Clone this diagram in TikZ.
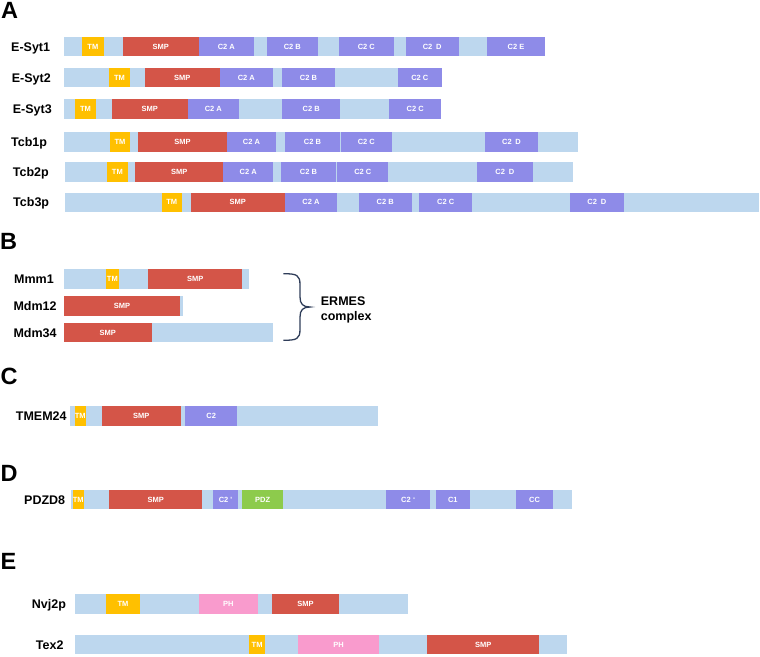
\documentclass[tikz,border=0pt]{standalone}
\usepackage{fontspec}
\setmainfont{Liberation Sans}
\definecolor{barc}{HTML}{BDD7EE}
\definecolor{tmc}{HTML}{FFC000}
\definecolor{smpc}{HTML}{D45548}
\definecolor{c2c}{HTML}{8E8BE8}
\definecolor{pdzc}{HTML}{8DCB4C}
\definecolor{phc}{HTML}{F99BCD}
\definecolor{bracec}{HTML}{2F3D59}
\newcommand\setrow[1]{\def\yc{#1}}
\newcommand\seg[5]{\node[#2, minimum width={(#4-#3)*1pt}] (#1) at ({(#3+#4)/2},\yc) {#5};}
\tikzset{
  segbase/.style={rectangle, draw=none, inner sep=0pt, outer sep=0pt, minimum height=19.5pt,
    font=\fontsize{7.5}{8}\selectfont\bfseries, text=white},
  barbox/.style={segbase, fill=barc},
  tmbox/.style={segbase, fill=tmc},
  smpbox/.style={segbase, fill=smpc},
  c2box/.style={segbase, fill=c2c},
  pdzbox/.style={segbase, fill=pdzc},
  phbox/.style={segbase, fill=phc},
  lab/.style={anchor=base west, inner sep=0pt, font=\fontsize{12.5}{14}\selectfont\bfseries},
  panel/.style={anchor=base west, inner sep=0pt, font=\fontsize{23.5}{26}\selectfont\bfseries},
}
\begin{document}
\begin{tikzpicture}[x=1pt,y=-1pt]
\useasboundingbox (0,0) rectangle (760,656);
% panel letters
\node[panel] (pA) at (1,18.3) {A};
\node[panel] (pB) at (0,249.3) {B};
\node[panel] (pC) at (0.5,384.3) {C};
\node[panel] (pD) at (0.5,481) {D};
\node[panel] (pE) at (0.5,569.3) {E};
% ---- A ----
\setrow{46.5}
\node[lab] (l1) at (11,51) {E-Syt1};
\seg{b1}{barbox}{64}{545.3}{}
\seg{tm1}{tmbox}{82}{103.7}{TM}
\seg{smp1}{smpbox}{122.7}{198.7}{SMP}
\seg{a1}{c2box}{198.7}{254}{C2 A}
\seg{bb1}{c2box}{267}{317.7}{C2 B}
\seg{c1}{c2box}{339}{393.7}{C2 C}
\seg{d1}{c2box}{405.7}{458.7}{C2\enspace D}
\seg{e1}{c2box}{486.7}{545.3}{C2 E}
\setrow{77.7}
\node[lab] (l2) at (11.7,82.2) {E-Syt2};
\seg{b2}{barbox}{64}{442}{}
\seg{tm2}{tmbox}{109.3}{129.7}{TM}
\seg{smp2}{smpbox}{145}{219.7}{SMP}
\seg{a2}{c2box}{219.7}{273}{C2 A}
\seg{bb2}{c2box}{282}{335}{C2 B}
\seg{c2}{c2box}{397.7}{442}{C2 C}
\setrow{108.8}
\node[lab] (l3) at (12.7,113.3) {E-Syt3};
\seg{b3}{barbox}{64}{441.3}{}
\seg{tm3}{tmbox}{75}{96}{TM}
\seg{smp3}{smpbox}{111.7}{187.7}{SMP}
\seg{a3}{c2box}{187.7}{239}{C2 A}
\seg{bb3}{c2box}{282}{340.3}{C2 B}
\seg{c3}{c2box}{389}{441.3}{C2 C}
\setrow{141.8}
\node[lab] (l4) at (11,146.3) {Tcb1p};
\seg{b4}{barbox}{64}{578.3}{}
\seg{tm4}{tmbox}{110}{130}{TM}
\seg{smp4}{smpbox}{138}{227}{SMP}
\seg{a4}{c2box}{227}{276}{C2 A}
\seg{bb4}{c2box}{285}{340}{C2 B}
\seg{c4}{c2box}{340.7}{392}{C2 C}
\seg{d4}{c2box}{485}{538}{C2\enspace D}
\setrow{172}
\node[lab] (l5) at (12.7,176.5) {Tcb2p};
\seg{b5}{barbox}{65}{572.7}{}
\seg{tm5}{tmbox}{107}{127.7}{TM}
\seg{smp5}{smpbox}{135.3}{223.3}{SMP}
\seg{a5}{c2box}{223.3}{273}{C2 A}
\seg{bb5}{c2box}{281}{336}{C2 B}
\seg{c5}{c2box}{337.3}{388.3}{C2 C}
\seg{d5}{c2box}{477}{532.7}{C2\enspace D}
\setrow{202.3}
\node[lab] (l6) at (13,206.8) {Tcb3p};
\seg{b6}{barbox}{65}{759}{}
\seg{tm6}{tmbox}{161.7}{181.7}{TM}
\seg{smp6}{smpbox}{190.7}{284.7}{SMP}
\seg{a6}{c2box}{284.7}{337.3}{C2 A}
\seg{bb6}{c2box}{358.7}{411.7}{C2 B}
\seg{c6}{c2box}{419.3}{472}{C2 C}
\seg{d6}{c2box}{569.7}{624}{C2\enspace D}
% ---- B ----
\setrow{279}
\node[lab] (l7) at (14,283.5) {Mmm1};
\seg{b7}{barbox}{64}{249.3}{}
\seg{tm7}{tmbox}{105.7}{119}{TM}
\seg{smp7}{smpbox}{148}{242.3}{SMP}
\setrow{305.8}
\node[lab] (l8) at (13.3,310.3) {Mdm12};
\seg{b8}{barbox}{64}{182.7}{}
\seg{smp8}{smpbox}{64}{180}{SMP}
\setrow{332.5}
\node[lab] (l9) at (13.3,337) {Mdm34};
\seg{b9}{barbox}{64}{273.3}{}
\seg{smp9}{smpbox}{64}{151.7}{SMP}
\draw[bracec, line width=1.3pt] (283.3,273.7) .. controls (297,273.7) and (300,275) .. (300,285)
  -- (300,297) .. controls (300,304) and (303,307) .. (310,307)
  .. controls (303,307) and (300,310) .. (300,317)
  -- (300,329) .. controls (300,339) and (297,340.3) .. (283.3,340.3);
\node[lab] (erm) at (320.7,305.3) {ERMES};
\node[lab] (cpx) at (320.7,320) {complex};
% ---- C ----
\setrow{415.8}
\node[lab] (l10) at (15.7,420.3) {TMEM24};
\seg{b10}{barbox}{70}{377.7}{}
\seg{tm10}{tmbox}{74.7}{85.7}{TM}
\seg{smp10}{smpbox}{101.7}{180.7}{SMP}
\seg{c10}{c2box}{185}{237.3}{C2}
% ---- D ----
\setrow{499.7}
\node[lab] (l11) at (24,504.2) {PDZD8};
\seg{b11}{barbox}{71.3}{572}{}
\seg{tm11}{tmbox}{72.7}{83.7}{TM}
\seg{smp11}{smpbox}{109.3}{202.3}{SMP}
\seg{cp11}{c2box}{213}{238}{C2 \textquotesingle}
\seg{pdz11}{pdzbox}{242}{283.3}{PDZ}
\seg{cpp11}{c2box}{386.3}{430}{C2 \raisebox{1pt}{\fontsize{5}{5}\selectfont\textquotesingle\textquotesingle}}
\seg{cone11}{c2box}{436}{469.7}{C1}
\seg{cc11}{c2box}{516.3}{552.7}{CC}
% ---- E ----
\setrow{603.8}
\node[lab] (l12) at (31.7,608.3) {Nvj2p};
\seg{b12}{barbox}{75}{408}{}
\seg{tm12}{tmbox}{106.3}{139.7}{TM}
\seg{ph12}{phbox}{199}{257.7}{PH}
\seg{smp12}{smpbox}{272}{339}{SMP}
\setrow{644.7}
\node[lab] (l13) at (35.7,649.2) {Tex2};
\seg{b13}{barbox}{75}{566.7}{}
\seg{tm13}{tmbox}{249.3}{265}{TM}
\seg{ph13}{phbox}{298}{379}{PH}
\seg{smp13}{smpbox}{427}{539.3}{SMP}
\end{tikzpicture}
\end{document}
